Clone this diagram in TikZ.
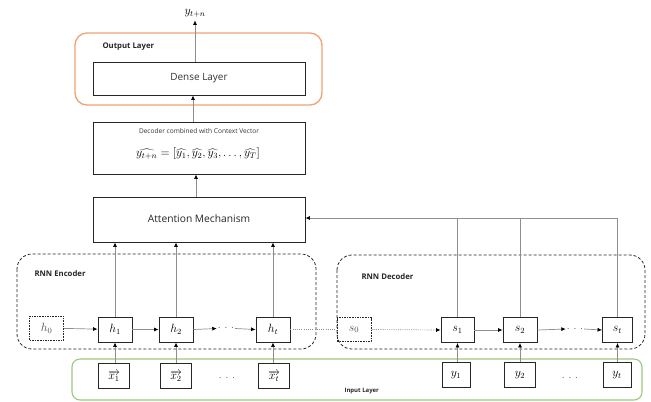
\documentclass[tikz,border=0pt]{standalone}
\usepackage{fontspec}
\setsansfont{Open Sans}
\usetikzlibrary{arrows.meta}
\definecolor{outorange}{HTML}{F2A271}
\definecolor{ingreen}{HTML}{9CC87E}
\definecolor{linkgray}{HTML}{8E8E8E}
\tikzset{
  block/.style={draw=black!85, line width=0.9bp, inner sep=0pt},
  bigbox/.style={block, minimum width=212bp},
  cell/.style={block, minimum width=34bp, minimum height=25bp, font=\fontsize{12}{14}\selectfont},
  incell/.style={block, minimum width=31bp, minimum height=25bp, font=\fontsize{12}{14}\selectfont},
  initcell/.style={draw=black!85, line width=1bp, dash pattern=on 1.6bp off 1bp, minimum width=34bp, minimum height=24bp, inner sep=0pt, font=\fontsize{12}{14}\selectfont, text=black!70},
  conn/.style={draw=linkgray, line width=0.7bp, -{Latex[length=4.5bp,width=4bp,color=black]}},
  link/.style={draw=linkgray, line width=0.7bp},
  dotlink/.style={draw=linkgray, line width=0.7bp, dash pattern=on 1bp off 1.2bp},
  group/.style={draw=black!85, line width=0.8bp, dash pattern=on 3bp off 2bp, rounded corners=15bp},
  grouplabel/.style={anchor=west, font=\sffamily\bfseries\fontsize{7.8}{9}\selectfont, text=black!85},
  dotsnode/.style={inner sep=1bp, font=\fontsize{10}{12}\selectfont, text=black!75},
}
\begin{document}
\begin{tikzpicture}[x=1bp, y=-1bp]
\useasboundingbox (0,0) rectangle (651,401);

% frames of the layers
\draw[outorange, line width=1.3bp, rounded corners=12bp] (75,33) rectangle (322,105);
\node[grouplabel] (outlbl) at (99,47) {Output Layer};
\draw[ingreen, line width=1.1bp, rounded corners=8bp] (72,359) rectangle (642,400);
\node[grouplabel, font=\sffamily\bfseries\fontsize{6}{7}\selectfont] (inlbl) at (341,391) {Input Layer};
\draw[group] (17,254) rectangle (316,349);
\node[grouplabel] (enclbl) at (31,274) {RNN Encoder};
\draw[group] (337,255) rectangle (645,349);
\node[grouplabel] (declbl) at (358,277) {RNN Decoder};

% upper blocks
\node[bigbox, minimum height=33bp, font=\sffamily\fontsize{10}{12}\selectfont, text=black!80] (dense) at (199,78.5) {Dense Layer};
\node (yout) at (195,13) {\fontsize{12}{14}\selectfont$y_{t+n}$};
\node[bigbox, minimum height=52bp] (dec) at (199,148) {};
\node[font=\sffamily\fontsize{6.6}{8}\selectfont, text=black!80] (dectitle) at (199,131) {Decoder combined with Context Vector};
\node[font=\fontsize{12}{14}\selectfont] (decformula) at (198,154)
  {$\widehat{y_{t+n}} = [\widehat{y_1}, \widehat{y_2}, \widehat{y_3}, \ldots, \widehat{y_T}]$};
\node[bigbox, minimum height=45bp, font=\sffamily\fontsize{10.3}{12}\selectfont, text=black!85] (att) at (199,219.5) {\raisebox{2bp}{Attention Mechanism}};

% encoder cells
\node[initcell] (h0) at (46.5,328) {$h_0$};
\node[cell] (h1) at (115,329.5) {$h_1$};
\node[cell] (h2) at (176,329.5) {$h_2$};
\node[dotsnode] (hdots) at (226,328.5) {$\cdot\,\cdot\,\cdot$};
\node[cell] (ht) at (273,329.5) {$h_t$};
\node[incell] (x1) at (114,376) {$\overrightarrow{x_1}$};
\node[incell] (x2) at (176,376) {$\overrightarrow{x_2}$};
\node[dotsnode] (xdots) at (227,378) {$\cdot\,\cdot\,\cdot$};
\node[incell] (xt) at (274,376) {$\overrightarrow{x_t}$};

% decoder cells
\node[initcell] (s0) at (354,329.5) {$s_0$};
\node[cell, minimum width=33bp] (s1) at (457.5,330) {$s_1$};
\node[cell] (s2) at (520,330) {$s_2$};
\node[dotsnode] (sdots) at (575,329) {$\cdot\,\cdot\,\cdot$};
\node[cell, minimum width=30bp] (st) at (617.5,330) {$s_t$};
\node[incell, minimum width=28bp] (y1) at (456,375) {$y_1$};
\node[incell, minimum width=31bp] (y2) at (520,375) {$y_2$};
\node[dotsnode] (ydots) at (570,378) {$\cdot\,\cdot\,\cdot$};
\node[incell, minimum width=28bp] (yt) at (617,375) {$y_t$};

% vertical flow through the upper blocks
\draw[conn] (dense.north -| yout.south) -- (yout.south);
\draw[conn] ([xshift=-6bp]dec.north) -- ([xshift=-6bp]dense.south);
\draw[conn] ([xshift=-3bp]att.north) -- ([xshift=-3bp]dec.south);

% encoder states feed the attention
\draw[conn] (h1.north) -- (h1.north |- att.south);
\draw[conn] (h2.north) -- (h2.north |- att.south);
\draw[conn] (ht.north) -- (ht.north |- att.south);

% decoder states feed the attention from the right
\coordinate (fb) at ([yshift=1.5bp]att.east);
\draw[link] (s1.north) -- (s1.north |- fb);
\draw[link] (s2.north) -- (s2.north |- fb);
\draw[conn] (st.north) |- (fb);

% recurrences
\draw[conn] (h0) -- (h1);
\draw[conn] (h1) -- (h2);
\draw[conn] (h2.east) -- (hdots.west);
\draw[conn] (hdots.east) -- (ht.west);
\draw[dotlink] (ht.east) -- (s0.west);
\draw[dotlink, -{Latex[length=4.5bp,width=4bp,color=black]}] (s0.east) -- (s1.west);
\draw[conn] (s1) -- (s2);
\draw[conn] (s2.east) -- (sdots.west);
\draw[conn] (sdots.east) -- (st.west);

% inputs
\draw[conn] (x1.north -| h1.south) -- (h1.south);
\draw[conn] (x2) -- (h2);
\draw[conn] (xt.north -| ht.south) -- (ht.south);
\draw[conn] (y1.north -| s1.south) -- (s1.south);
\draw[conn] (y2) -- (s2);
\draw[conn] (yt.north -| st.south) -- (st.south);
\end{tikzpicture}
\end{document}
